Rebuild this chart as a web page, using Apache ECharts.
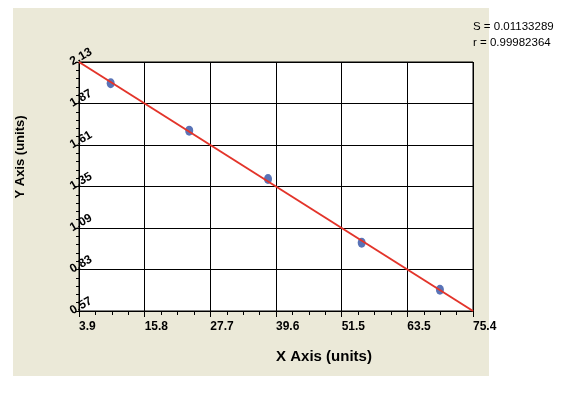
<!DOCTYPE html>
<html><head><meta charset="utf-8">
<script src="https://cdn.jsdelivr.net/npm/echarts@6/dist/echarts.min.js"></script>
<style>html,body{margin:0;padding:0;background:#fff}#c{width:578px;height:396px}</style>
</head><body><div id="c"></div>
<script>
const xTickLabels = ['3.9', '15.8', '27.7', '39.6', '51.5', '63.5', '75.4'];
const yTickLabels = ['0.57', '0.83', '1.09', '1.35', '1.61', '1.87', '2.13'];
const xMin = 3.9, xMax = 75.4, yMin = 0.57, yMax = 2.13;
const pointX = [9.65, 23.9, 38.2, 55.2, 69.4];
const pointY = [1.997, 1.700, 1.397, 0.998, 0.703];
const fitX = [3.9, 75.4];
const fitY = [2.13, 0.57];
const statLines = ['S = 0.01133289', 'r = 0.99982364'];
const xTitle = 'X Axis (units)';
const yTitle = 'Y Axis (units)';

const xInterval = 11.91667;
const yInterval = 0.26;
const FONT = '"Liberation Sans", Arial, sans-serif';

const chart = echarts.init(document.getElementById('c'), null, {renderer: 'canvas'});
chart.setOption({
  backgroundColor: '#ffffff',
  animation: false,
  graphic: [
    {type: 'rect', z: -100, silent: true, shape: {x: 13, y: 8, width: 476, height: 368}, style: {fill: '#ebe9d8'}},
    {type: 'text', left: 473, top: 21, style: {text: statLines[0], font: '11.5px ' + FONT, fill: '#000'}},
    {type: 'text', left: 473, top: 37, style: {text: statLines[1], font: '11.5px ' + FONT, fill: '#000'}},
    {type: 'text', x: 324, y: 357, style: {text: xTitle, font: 'bold 15px ' + FONT, fill: '#000', align: 'center', verticalAlign: 'middle'}},
    {type: 'text', x: 20, y: 157, rotation: Math.PI / 2, style: {text: yTitle, font: 'bold 13px ' + FONT, fill: '#000', align: 'center', verticalAlign: 'middle'}}
  ],
  grid: {left: 79, top: 62, width: 394, height: 249, show: true, backgroundColor: '#ffffff', borderColor: '#000', borderWidth: 1},
  xAxis: {
    type: 'value', min: xMin, max: xMax, interval: xInterval,
    axisLine: {show: true, lineStyle: {color: '#000', width: 1}},
    axisTick: {show: true, length: 6, lineStyle: {color: '#000'}},
    minorTick: {show: true, splitNumber: 4, length: 4, lineStyle: {color: '#000'}},
    splitLine: {show: true, lineStyle: {color: '#000', width: 1}},
    axisLabel: {
      margin: 10, align: 'left', color: '#000', fontFamily: FONT, fontWeight: 'bold', fontSize: 12,
      formatter: v => xTickLabels[Math.round((v - xMin) / xInterval)] || ''
    }
  },
  yAxis: {
    type: 'value', min: yMin, max: yMax, interval: yInterval,
    axisLine: {show: true, lineStyle: {color: '#000', width: 1}},
    axisTick: {show: true, length: 4, lineStyle: {color: '#000'}},
    minorTick: {show: true, splitNumber: 5, length: 3, lineStyle: {color: '#000'}},
    splitLine: {show: true, lineStyle: {color: '#000', width: 1}},
    axisLabel: {
      margin: -5, rotate: 30, align: 'center', verticalAlign: 'bottom',
      color: '#000', fontFamily: FONT, fontWeight: 'bold', fontSize: 12,
      formatter: v => yTickLabels[Math.round((v - yMin) / yInterval)] || ''
    }
  },
  series: [
    {
      type: 'scatter', z: 2,
      data: pointX.map((x, i) => [x, pointY[i]]),
      symbol: 'circle', symbolSize: [8, 10],
      itemStyle: {color: '#2f50a5'}
    },
    {
      type: 'line', z: 3,
      data: fitX.map((x, i) => [x, fitY[i]]),
      showSymbol: false, symbol: 'none',
      lineStyle: {color: '#e3342a', width: 2}
    }
  ]
});
</script>
</body></html>
